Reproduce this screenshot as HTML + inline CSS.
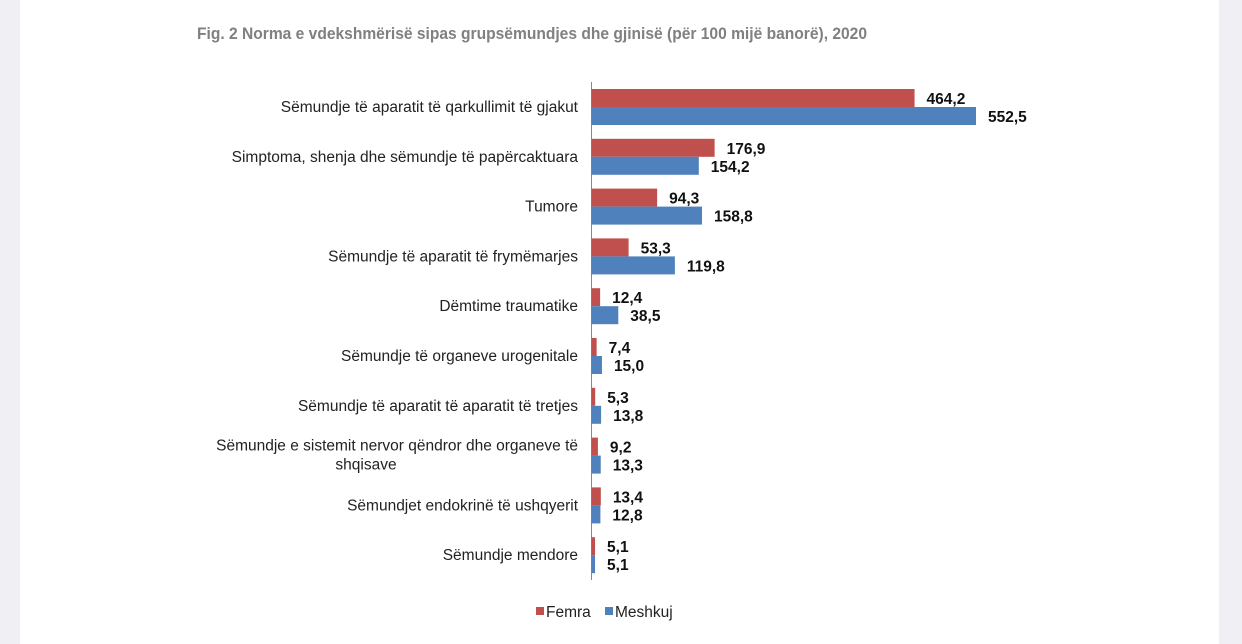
<!DOCTYPE html>
<html><head><meta charset="utf-8"><style>
html,body{margin:0;padding:0;background:#f0f0f4;}
svg{display:block;font-family:"Liberation Sans",Arial,sans-serif;}
</style></head><body>
<svg id="chart" width="1242" height="644" viewBox="0 0 1242 644">
<rect x="20" y="0" width="1199" height="644" fill="#ffffff"/>
<text x="532" y="39" text-anchor="middle" font-size="17" font-weight="bold" fill="#808080" textLength="670" lengthAdjust="spacingAndGlyphs">Fig. 2 Norma e vdekshmërisë sipas grupsëmundjes dhe gjinisë (për 100 mijë banorë), 2020</text>
<line x1="591.5" y1="82" x2="591.5" y2="580" stroke="#888" stroke-width="1"/>
<g id="bars"></g>
<g>
<rect x="536" y="607" width="8" height="8" fill="#c0504d"/>
<text x="546" y="617" font-size="15.5" fill="#222">Femra</text>
<rect x="605" y="607" width="8" height="8" fill="#4f81bd"/>
<text x="615" y="617" font-size="15.5" fill="#222">Meshkuj</text>
</g>
</svg>
<script>
const categories = [
 ["Sëmundje të aparatit të qarkullimit të gjakut"],
 ["Simptoma, shenja dhe sëmundje të papërcaktuara"],
 ["Tumore"],
 ["Sëmundje të aparatit të frymëmarjes"],
 ["Dëmtime traumatike"],
 ["Sëmundje të organeve urogenitale"],
 ["Sëmundje të aparatit të aparatit të tretjes"],
 ["Sëmundje e sistemit nervor qëndror dhe organeve të","shqisave"],
 ["Sëmundjet endokrinë të ushqyerit"],
 ["Sëmundje mendore"]
];
const femra = [464.2,176.9,94.3,53.3,12.4,7.4,5.3,9.2,13.4,5.1];
const meshkuj = [552.5,154.2,158.8,119.8,38.5,15.0,13.8,13.3,12.8,5.1];
const NS="http://www.w3.org/2000/svg";
const x0=591.5, scale=(976-591.5)/552.5;
const xScale=v=>x0+v*scale;
const yCenter=i=>107+i*49.8;
const g=document.getElementById('bars');
function mk(tag,attrs){const e=document.createElementNS(NS,tag);for(const k in attrs)e.setAttribute(k,attrs[k]);return e;}
const fmt=v=>v.toFixed(1).replace('.',',');
categories.forEach((c,i)=>{
 const cy=yCenter(i);
 const lab=mk('text',{x:578,'text-anchor':'end','font-size':15.5,fill:'#222'});
 
 
 if(c.length===1){lab.setAttribute('y',cy+5);lab.textContent=c[0];}
 else{c.forEach((t,j)=>{const ts=mk('tspan',{x:j?366:578,y:cy-5+j*19,'text-anchor':j?'middle':'end'});ts.textContent=t;lab.appendChild(ts);});}
 g.appendChild(lab);
 [[femra,'#c0504d',-18,'bar-femra'],[meshkuj,'#4f81bd',0,'bar-meshkuj']].forEach(([arr,col,off,nm])=>{
  const v=arr[i];
  const r=mk('rect',{x:x0,y:cy+off,width:xScale(v)-x0,height:18,fill:col});
  
  
  g.appendChild(r);
  const t=mk('text',{x:xScale(v)+12,y:cy+off+15,'font-size':15.5,'font-weight':'bold',fill:'#111'});
  
  
  t.textContent=fmt(v);
  g.appendChild(t);
 });
});
</script>
</body></html>
